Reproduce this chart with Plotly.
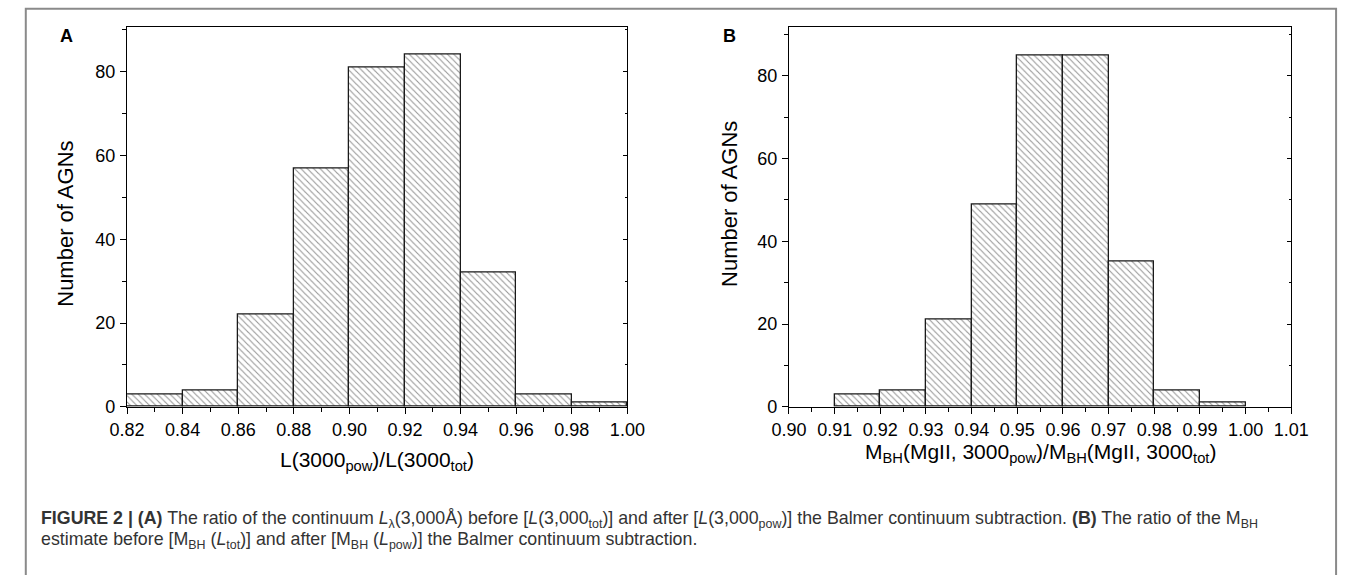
import plotly.graph_objects as go

W, H = 1357, 575

# ---- data ----
edges_a = [0.82, 0.84, 0.86, 0.88, 0.90, 0.92, 0.94, 0.96, 0.98, 1.00]
counts_a = [3, 4, 22, 57, 81, 84, 32, 3, 1]
ticks_a = [0.82, 0.84, 0.86, 0.88, 0.90, 0.92, 0.94, 0.96, 0.98, 1.00]

edges_b = [0.91, 0.92, 0.93, 0.94, 0.95, 0.96, 0.97, 0.98, 0.99, 1.00]
counts_b = [3, 4, 21, 49, 85, 85, 35, 4, 1]
ticks_b = [0.90, 0.91, 0.92, 0.93, 0.94, 0.95, 0.96, 0.97, 0.98, 0.99, 1.00, 1.01]

yticks = [0, 20, 40, 60, 80]

def px_x(p):
    return p / W

def px_y(p):
    return 1 - p / H

def centers(e):
    return [(e[i] + e[i + 1]) / 2 for i in range(len(e) - 1)]

def widths(e):
    return [e[i + 1] - e[i] for i in range(len(e) - 1)]

FONT = "Liberation Sans, Arial, sans-serif"

fig = go.Figure()

bar_style = dict(
    marker=dict(
        color="white",
        line=dict(color="#1a1a1a", width=1.3),
        pattern=dict(shape="\\", size=4.5, solidity=0.25, fgcolor="#333333", bgcolor="white"),
    ),
    showlegend=False,
    hoverinfo="x+y",
)

fig.add_trace(go.Bar(x=centers(edges_a), y=counts_a, width=widths(edges_a), xaxis="x", yaxis="y", **bar_style))
fig.add_trace(go.Bar(x=centers(edges_b), y=counts_b, width=widths(edges_b), xaxis="x2", yaxis="y2", **bar_style))
# invisible helpers so the right-hand inner tick axes are drawn
fig.add_trace(go.Scatter(x=centers(edges_a), y=counts_a, xaxis="x", yaxis="y3", mode="markers",
                         marker=dict(opacity=0), showlegend=False, hoverinfo="skip"))
fig.add_trace(go.Scatter(x=centers(edges_b), y=counts_b, xaxis="x2", yaxis="y4", mode="markers",
                         marker=dict(opacity=0), showlegend=False, hoverinfo="skip"))

ydom = [px_y(414), px_y(27)]
xa_dom = [px_x(112), px_x(626)]
xb_dom = [px_x(792), px_x(1308)]
yr_a = [0, 90.8]
yr_b = [0, 91.9]

tickfont = dict(family=FONT, size=18, color="black")
axline = dict(showline=True, linecolor="black", linewidth=1.4, showgrid=False, zeroline=False)

def xaxis(dom, tv, rng, minor_dtick, anchor):
    return dict(domain=dom, range=rng, anchor=anchor, tickmode="array", tickvals=tv,
                ticktext=[f"{v:.2f}" for v in tv], ticks="outside", ticklen=6, tickwidth=1.2,
                tickcolor="black", tickfont=tickfont, mirror=True,
                minor=dict(dtick=minor_dtick, tick0=rng[0], ticks="outside", ticklen=3.5,
                           tickwidth=1.1, tickcolor="black", showgrid=False),
                **axline)

def yaxis(rng, anchor):
    return dict(domain=ydom, range=rng, anchor=anchor, tickmode="array", tickvals=yticks,
                ticks="outside", ticklen=6, tickwidth=1.2, tickcolor="black", tickfont=tickfont,
                mirror=True, ticklabelstandoff=1,
                minor=dict(dtick=10, tick0=0, ticks="outside", ticklen=3.5, tickwidth=1.1,
                           tickcolor="black", showgrid=False),
                **axline)

def yright(rng, anchor, over):
    return dict(domain=ydom, range=rng, anchor=anchor, overlaying=over, side="right",
                tickmode="array", tickvals=yticks, ticks="inside", ticklen=4, tickwidth=1.1,
                tickcolor="black", showticklabels=False, showline=False, showgrid=False,
                zeroline=False,
                minor=dict(dtick=10, tick0=0, ticks="inside", ticklen=2.5, tickwidth=1,
                           tickcolor="black", showgrid=False))

annotations = []

def ann(text, x, y, size, xanchor="center", yanchor="middle", angle=0, color="black"):
    annotations.append(dict(text=text, x=px_x(x), y=px_y(y), xref="paper", yref="paper",
                            xanchor=xanchor, yanchor=yanchor, showarrow=False, textangle=angle,
                            font=dict(family=FONT, size=size, color=color)))

# panel labels
ann("<b>A</b>", 50, 37, 18)
ann("<b>B</b>", 731, 37, 18)
# y titles
ann("Number of AGNs", 48, 228, 22, angle=-90)
ann("Number of AGNs", 731, 208, 22, angle=-90)
# x titles
ann("L(3000<sub>pow</sub>)/L(3000<sub>tot</sub>)", 369, 469, 21)
ann("M<sub>BH</sub>(MgII, 3000<sub>pow</sub>)/M<sub>BH</sub>(MgII, 3000<sub>tot</sub>)", 1050, 461, 21)
# caption
cap1 = ("<b>FIGURE 2 | (A)</b> The ratio of the continuum <i>L</i><sub>λ</sub>(3,000Å) before "
        "[<i>L</i>(3,000<sub>tot</sub>)] and after [<i>L</i>(3,000<sub>pow</sub>)] the Balmer "
        "continuum subtraction. <b>(B)</b> The ratio of the M<sub>BH</sub>")
cap2 = ("estimate before [M<sub>BH</sub> (<i>L</i><sub>tot</sub>)] and after "
        "[M<sub>BH</sub> (<i>L</i><sub>pow</sub>)] the Balmer continuum subtraction.")
ann(cap1, 22, 529, 17.8, xanchor="left", color="#333333")
ann(cap2, 22, 550, 17.8, xanchor="left", color="#333333")

fig.update_layout(
    width=W, height=H, margin=dict(l=0, r=0, t=0, b=0),
    paper_bgcolor="white", plot_bgcolor="white",
    barmode="overlay", bargap=0,
    xaxis=xaxis(xa_dom, ticks_a, [0.82, 1.00], 0.01, "y"),
    yaxis=yaxis(yr_a, "x"),
    xaxis2=xaxis(xb_dom, ticks_b, [0.90, 1.01], 0.005, "y2"),
    yaxis2=yaxis(yr_b, "x2"),
    yaxis3=yright(yr_a, "x", "y"),
    yaxis4=yright(yr_b, "x2", "y2"),
    annotations=annotations,
    shapes=[dict(type="rect", xref="paper", yref="paper",
                 x0=px_x(8), x1=px_x(1354), y0=-0.2, y1=px_y(9),
                 line=dict(color="#8a8a8a", width=2), fillcolor="rgba(0,0,0,0)", layer="below")],
    font=dict(family=FONT),
)

fig.write_html("out.html")
